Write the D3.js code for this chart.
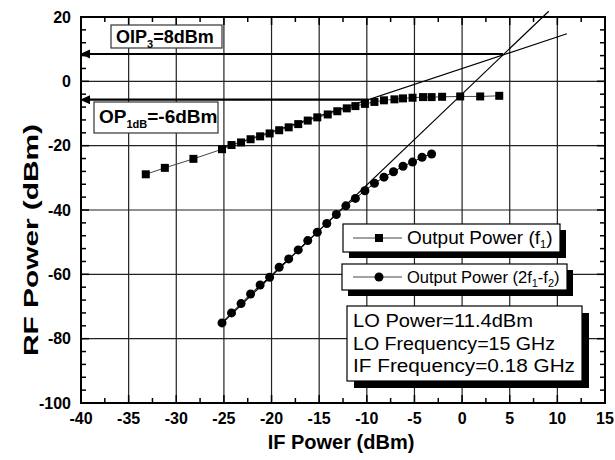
<!DOCTYPE html>
<html>
<head>
<meta charset="utf-8">
<script src="https://cdn.jsdelivr.net/npm/d3@7"></script>
<style>
  body { margin: 0; background: #fff; }
  svg { font-family: "Liberation Sans", Arial, sans-serif; }
</style>
</head>
<body>
<div id="chart"></div>
<script>
// fundamental output power (f1)
const f1X = [-33.2, -31.2, -28.2, -25.2, -24.2, -23.2, -22.2, -21.2, -20.2, -19.2, -18.2, -17.2, -16.2, -15.2,
  -14.1, -13.1, -12.1, -11.2, -10.2, -9.2, -8.2, -7.1, -6.2, -5.2, -4.1, -3.2, -2.1, -0.2, 1.9, 3.9];
const f1Y = [-28.9, -26.9, -24.1, -21.1, -19.8, -19.0, -18.0, -17.1, -16.2, -15.2, -14.3, -13.3, -12.2, -11.2,
  -10.3, -9.3, -8.4, -7.7, -7.0, -6.4, -5.9, -5.6, -5.3, -5.1, -4.9, -4.9, -4.8, -4.7, -4.7, -4.5];

// third order product (2f1-f2)
const imX = [-25.2, -24.2, -23.2, -22.2, -21.2, -20.2, -19.2, -18.2, -17.2, -16.2, -15.2, -14.2,
  -13.2, -12.2, -11.2, -10.2, -9.2, -8.2, -7.2, -6.2, -5.2, -4.2, -3.2];
const imY = [-75.1, -72.0, -69.1, -66.1, -63.3, -60.9, -57.8, -55.2, -52.4, -49.5, -46.9, -44.2,
  -41.4, -38.7, -36.4, -34.0, -31.7, -29.8, -28.1, -26.4, -25.1, -23.6, -22.6];

// extrapolated fit lines (end points)
const fitF1X = [-25.2, 11.0];
const fitF1Y = [-20.8, 14.8];
const fitImX = [-25.2, 9.1];
const fitImY = [-75.2, 21.8];

// horizontal markers: OIP3 and OP1dB levels and where they end
const markY = [8.5, -5.7];
const markEndX = [4.3, -9.8];

const xTicks = [-40, -35, -30, -25, -20, -15, -10, -5, 0, 5, 10, 15];
const yTicks = [-100, -80, -60, -40, -20, 0, 20];
const legendNames = ["Output Power (f", "Output Power (2f"];
const infoLines = ["LO Power=11.4dBm", "LO Frequency=15 GHz", "IF Frequency=0.18 GHz"];

const W = 615, H = 460;
const L = 81, R = 605, T = 17, B = 403;

const svg = d3.select("#chart").append("svg")
  .attr("width", W).attr("height", H);

const x = d3.scaleLinear().domain([-40, 15]).range([L, R]);
const y = d3.scaleLinear().domain([-100, 20]).range([B, T]);

// grid
svg.append("g").selectAll("line").data(xTicks.slice(1, -1)).join("line")
  .attr("x1", d => x(d)).attr("x2", d => x(d))
  .attr("y1", T).attr("y2", B)
  .attr("stroke", "#222").attr("stroke-width", 1.2);
svg.append("g").selectAll("line").data(yTicks.slice(1, -1)).join("line")
  .attr("x1", L).attr("x2", R)
  .attr("y1", d => y(d)).attr("y2", d => y(d))
  .attr("stroke", "#222").attr("stroke-width", 1.2);

// inward ticks on all four sides
const xMinor = d3.range(-40, 15.01, 2.5);
const yMinor = d3.range(-100, 20.01, 4);
const tk = svg.append("g").attr("stroke", "#000").attr("stroke-width", 1.5);
xMinor.forEach(v => {
  const len = v % 5 === 0 ? 8 : 5;
  tk.append("line").attr("x1", x(v)).attr("x2", x(v)).attr("y1", B).attr("y2", B - len);
  tk.append("line").attr("x1", x(v)).attr("x2", x(v)).attr("y1", T).attr("y2", T + len);
});
yMinor.forEach(v => {
  const len = v % 20 === 0 ? 8 : 5;
  tk.append("line").attr("y1", y(v)).attr("y2", y(v)).attr("x1", L).attr("x2", L + len);
  tk.append("line").attr("y1", y(v)).attr("y2", y(v)).attr("x1", R).attr("x2", R - len);
});

// frame
svg.append("rect").attr("x", L).attr("y", T).attr("width", R - L).attr("height", B - T)
  .attr("fill", "none").attr("stroke", "#000").attr("stroke-width", 2);

// tick labels
svg.append("g").selectAll("text").data(xTicks).join("text")
  .attr("x", d => x(d)).attr("y", 424)
  .attr("text-anchor", "middle").attr("font-size", 16).attr("font-weight", "bold")
  .text(d => d);
svg.append("g").selectAll("text").data(yTicks).join("text")
  .attr("x", 71).attr("y", d => y(d)).attr("dy", "0.36em")
  .attr("text-anchor", "end").attr("font-size", 16).attr("font-weight", "bold")
  .text(d => d);

// axis titles
svg.append("text").attr("x", 341).attr("y", 449)
  .attr("text-anchor", "middle").attr("font-size", 20).attr("font-weight", "bold")
  .text("IF Power (dBm)");
svg.append("text").attr("transform", "translate(38,240) rotate(-90)")
  .attr("text-anchor", "middle").attr("font-size", 21).attr("font-weight", "bold")
  .attr("textLength", 232).attr("lengthAdjust", "spacingAndGlyphs")
  .text("RF Power (dBm)");

// fit lines
const line = d3.line().x(d => x(d[0])).y(d => y(d[1]));
svg.append("path").attr("d", line(d3.zip(fitF1X, fitF1Y)))
  .attr("fill", "none").attr("stroke", "#000").attr("stroke-width", 1.2);
svg.append("path").attr("d", line(d3.zip(fitImX, fitImY)))
  .attr("fill", "none").attr("stroke", "#000").attr("stroke-width", 1.2);

// OIP3 / OP1dB arrows
markY.forEach((v, i) => {
  svg.append("line")
    .attr("x1", x(markEndX[i])).attr("x2", L + 4)
    .attr("y1", y(v)).attr("y2", y(v))
    .attr("stroke", "#000").attr("stroke-width", 2.2);
  const tx = L - 1, ty = y(v);
  svg.append("path")
    .attr("d", `M${tx},${ty} L${tx + 10},${ty - 4.5} L${tx + 10},${ty + 4.5} Z`)
    .attr("fill", "#000");
});

// series
svg.append("path").attr("d", line(d3.zip(f1X, f1Y)))
  .attr("fill", "none").attr("stroke", "#444").attr("stroke-width", 1);
svg.append("path").attr("d", line(d3.zip(imX, imY)))
  .attr("fill", "none").attr("stroke", "#000").attr("stroke-width", 1);

svg.append("g").selectAll("rect").data(d3.zip(f1X, f1Y)).join("rect")
  .attr("x", d => x(d[0]) - 4).attr("y", d => y(d[1]) - 4)
  .attr("width", 8).attr("height", 8).attr("fill", "#000");
svg.append("g").selectAll("circle").data(d3.zip(imX, imY)).join("circle")
  .attr("cx", d => x(d[0])).attr("cy", d => y(d[1]))
  .attr("r", 4.5).attr("fill", "#000");

// annotation boxes
function labelBox(bx, by, bw, bh) {
  svg.append("rect").attr("x", bx).attr("y", by).attr("width", bw).attr("height", bh)
    .attr("fill", "#fff").attr("stroke", "#333").attr("stroke-width", 1.2);
}
labelBox(111, 25, 111, 23);
const oip = svg.append("text").attr("x", 116).attr("y", 43)
  .attr("font-size", 18).attr("font-weight", "bold");
oip.append("tspan").text("OIP");
oip.append("tspan").attr("dy", 5).attr("font-size", 11).text("3");
oip.append("tspan").attr("dy", -5).text("=8dBm");

labelBox(94, 102, 124, 31);
const op = svg.append("text").attr("x", 99).attr("y", 123)
  .attr("font-size", 19).attr("font-weight", "bold");
op.append("tspan").text("OP");
op.append("tspan").attr("dy", 5).attr("font-size", 11).text("1dB");
op.append("tspan").attr("dy", -5).text("=-6dBm");

// legend and info boxes with drop shadows
function shadowBox(bx, by, bw, bh, off) {
  svg.append("rect").attr("x", bx + off).attr("y", by + off).attr("width", bw).attr("height", bh)
    .attr("fill", "#000");
  svg.append("rect").attr("x", bx).attr("y", by).attr("width", bw).attr("height", bh)
    .attr("fill", "#fff").attr("stroke", "#000").attr("stroke-width", 1.2);
}

shadowBox(343, 224, 217, 28, 6);
shadowBox(342, 264, 225, 26, 6);
shadowBox(347, 306, 235, 75, 7);

const legY = [238, 277];
const legSize = [19, 16.5];
legY.forEach((ly, i) => {
  svg.append("line").attr("x1", 353).attr("x2", 402).attr("y1", ly).attr("y2", ly)
    .attr("stroke", "#444").attr("stroke-width", 1);
  if (i === 0) {
    svg.append("rect").attr("x", 375).attr("y", ly - 4).attr("width", 8).attr("height", 8).attr("fill", "#000");
  } else {
    svg.append("circle").attr("cx", 379).attr("cy", ly).attr("r", 4.5).attr("fill", "#000");
  }
  const t = svg.append("text").attr("x", 407).attr("y", ly + 6).attr("font-size", legSize[i]);
  t.append("tspan").text(legendNames[i]);
  t.append("tspan").attr("dy", 4).attr("font-size", 11).text("1");
  if (i === 0) {
    t.append("tspan").attr("dy", -4).text(")");
  } else {
    t.append("tspan").attr("dy", -4).text("-f");
    t.append("tspan").attr("dy", 4).attr("font-size", 11).text("2");
    t.append("tspan").attr("dy", -4).text(")");
  }
});

const infoLen = [180, 202, 222];
svg.append("g").selectAll("text").data(infoLines).join("text")
  .attr("x", 353).attr("y", (d, i) => 327 + i * 22.5)
  .attr("font-size", 18)
  .attr("textLength", (d, i) => infoLen[i]).attr("lengthAdjust", "spacingAndGlyphs")
  .text(d => d);
</script>
</body>
</html>
